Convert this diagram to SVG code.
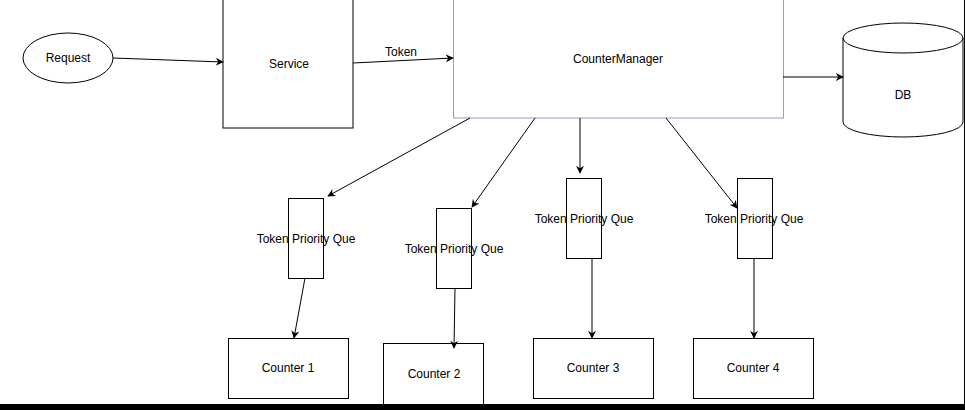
<svg xmlns="http://www.w3.org/2000/svg" width="965" height="410" viewBox="0 0 965 410">
<style>
.s{fill:#fff;stroke:#000;stroke-width:1}
.t{font-family:"Liberation Sans",Arial,sans-serif;font-size:12px;fill:#000;text-anchor:middle;dominant-baseline:central}
.c{fill:none;stroke:#000;stroke-width:1;marker-end:url(#a)}
</style>
<defs>
<marker id="a" viewBox="0 0 10 10" refX="9" refY="5" markerWidth="8" markerHeight="8" markerUnits="userSpaceOnUse" orient="auto">
<path d="M0,0 L10,5 L0,10 L3,5 Z" fill="#000"/>
</marker>
</defs>
<rect width="965" height="410" fill="#fff"/>
<g id="request"><ellipse class="s" cx="68" cy="58" rx="45" ry="25"/><text class="t" x="68" y="58">Request</text></g>
<g id="service"><rect class="s" x="223" y="-2" width="130" height="130"/><text class="t" x="289" y="64">Service</text></g>
<g id="countermanager"><rect x="453.5" y="-2" width="330" height="120" fill="#fff" stroke="#ab94c4"/><text class="t" x="618" y="59">CounterManager</text></g>
<g id="db"><path class="s" d="M843,38 A60,15 0 0 1 963,38 L963,122 A60,15 0 0 1 843,122 Z"/><path d="M843,38 A60,15 0 0 0 963,38" fill="none" stroke="#000"/><text class="t" x="903" y="95">DB</text></g>
<g id="queue1"><rect class="s" x="288.5" y="198.5" width="35" height="80"/><text class="t" x="306" y="239">Token Priority Que</text></g>
<g id="queue2"><rect class="s" x="436.5" y="208.5" width="35" height="80"/><text class="t" x="454" y="249">Token Priority Que</text></g>
<g id="queue3"><rect class="s" x="566.5" y="178.5" width="35" height="80"/><text class="t" x="584" y="219">Token Priority Que</text></g>
<g id="queue4"><rect class="s" x="737.5" y="178.5" width="35" height="80"/><text class="t" x="754" y="219">Token Priority Que</text></g>
<g id="counter1"><rect class="s" x="228.5" y="338.5" width="120" height="60"/><text class="t" x="288" y="368">Counter 1</text></g>
<g id="counter2"><rect class="s" x="383.5" y="343.5" width="100" height="64"/><text class="t" x="434" y="374">Counter 2</text></g>
<g id="counter3"><rect class="s" x="533.5" y="338.5" width="120" height="60"/><text class="t" x="593" y="368">Counter 3</text></g>
<g id="counter4"><rect class="s" x="693.5" y="338.5" width="120" height="60"/><text class="t" x="753" y="368">Counter 4</text></g>
<g id="connectors">
<path class="c" d="M113,58 L223,62"/>
<path class="c" d="M353,63 L453,58"/>
<path class="c" d="M783,77 L843,77"/>
<path class="c" d="M470,118 L328,196"/>
<path class="c" d="M535,118 L472,207"/>
<path class="c" d="M580,118 L580,173"/>
<path class="c" d="M666,118 L737,208"/>
<path class="c" d="M305,278 L294,338"/>
<path class="c" d="M455,288 L454,348"/>
<path class="c" d="M592,258 L592,338"/>
<path class="c" d="M754,258 L754,338"/>
<text class="t" x="401" y="52">Token</text>
</g>
<rect x="0" y="404" width="965" height="6" fill="#000"/>
<rect x="964" y="0" width="1" height="410" fill="#000"/>
</svg>
